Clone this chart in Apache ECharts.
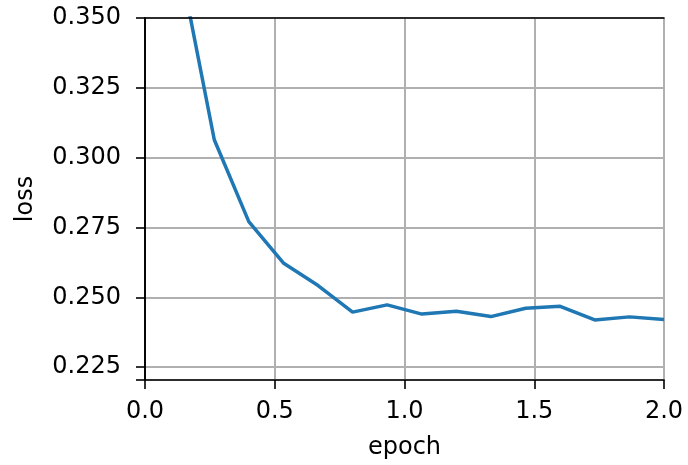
<!DOCTYPE html>
<html>
<head>
<meta charset="utf-8">
<script src="https://cdn.jsdelivr.net/npm/echarts@6/dist/echarts.min.js"></script>
<style>
html, body { margin: 0; padding: 0; background: #fff; }
#chart { width: 688px; height: 465px; }
</style>
</head>
<body>
<div id="chart"></div>
<script>
// 训练损失曲线
const epochs = [0.133, 0.267, 0.4, 0.533, 0.667, 0.8, 0.933, 1.067, 1.2, 1.333, 1.467, 1.6, 1.733, 1.867, 2.0]
const losses = [0.370, 0.3064, 0.2771, 0.2623, 0.2542, 0.2447, 0.2473, 0.2440, 0.2450, 0.2431, 0.2461, 0.2468, 0.2419, 0.2430, 0.2421]
const yTicks = [0.225, 0.25, 0.275, 0.3, 0.325, 0.35]
const yMin = 0.2204

const font = 'DejaVu Sans'
const fs = 24
const chart = echarts.init(document.getElementById('chart'), null, {renderer: 'canvas'})
const spine = {show: true, lineStyle: {color: '#000', width: 1.6}}
const option = {
    animation: false,
    backgroundColor: '#fff',
    grid: {left: 145, right: 24, top: 18, bottom: 84, containLabel: false},
    xAxis: [{
        type: 'value',
        min: 0,
        max: 2,
        interval: 0.5,
        name: 'epoch',
        nameLocation: 'middle',
        nameGap: 56,
        nameTextStyle: {fontFamily: font, fontSize: fs, color: '#000'},
        axisLine: spine,
        axisTick: {show: true, length: 9, lineStyle: {color: '#000', width: 1.6}},
        axisLabel: {
            fontFamily: font, fontSize: fs, color: '#000', margin: 20,
            formatter: v => v.toFixed(1)
        },
        splitLine: {show: true, lineStyle: {color: '#b0b0b0', width: 2}},
        z: 1
    }, { // 上边框
        type: 'value', position: 'top', min: 0, max: 2,
        axisLine: spine, axisTick: {show: false}, axisLabel: {show: false},
        splitLine: {show: false}, z: 5
    }],
    yAxis: [{
        type: 'value',
        min: yMin,
        max: 0.35,
        name: 'loss',
        nameLocation: 'middle',
        nameGap: 107,
        nameTextStyle: {fontFamily: font, fontSize: fs, color: '#000'},
        axisLine: spine,
        axisTick: {show: true, length: 9, customValues: [yMin].concat(yTicks), lineStyle: {color: '#000', width: 1.6}},
        axisLabel: {
            fontFamily: font, fontSize: fs, color: '#000', margin: 24,
            customValues: yTicks,
            formatter: v => v.toFixed(3)
        },
        splitLine: {show: true, lineStyle: {color: '#b0b0b0', width: 2}},
        z: 1
    }, { // 右边框
        type: 'value', position: 'right', min: yMin, max: 0.35,
        axisLine: spine, axisTick: {show: false}, axisLabel: {show: false},
        splitLine: {show: false}, z: 5
    }],
    series: [{
        type: 'line',
        data: epochs.map((e, i) => [e, losses[i]]),
        showSymbol: false,
        clip: true,
        lineStyle: {color: '#1f77b4', width: 3.5},
        itemStyle: {color: '#1f77b4'},
        z: 3
    }]
}
chart.setOption(option)
</script>
</body>
</html>
